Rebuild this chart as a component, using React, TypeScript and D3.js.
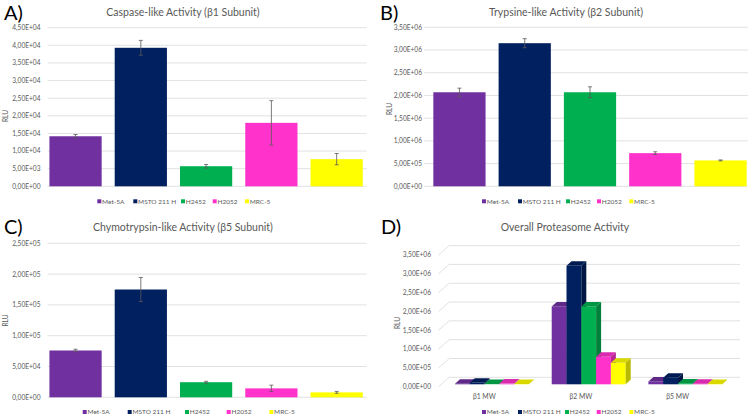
import React from "react";
import * as d3 from "d3";

const categories = ["Met-5A", "MSTO 211 H", "H2452", "H2052", "MRC-5"];
const colors = ["#7030A0", "#002060", "#00B050", "#FF33CC", "#FFFF00"];

const caspaseValues = [14200, 39300, 5700, 18000, 7700];
const caspaseErrors = [500, 2100, 500, 6300, 1600];

const trypsinValues = [2070000, 3150000, 2070000, 730000, 570000];
const trypsinErrors = [90000, 100000, 120000, 30000, 10000];

const chymoValues = [76000, 175000, 24500, 14500, 8000];
const chymoErrors = [2000, 19500, 1500, 5200, 1500];

const overallGroups = ["β1 MW", "β2 MW", "β5 MW"];
const overallValues = [caspaseValues, trypsinValues, chymoValues];

const FONT = "Lato, 'Open Sans', sans-serif";
const GRAY = "#595959";
const GRID = "#d9d9d9";

function fmt(v: number): string {
  if (v === 0) return "0,00E+00";
  const e = Math.floor(Math.log10(v) + 1e-9);
  const m = v / Math.pow(10, e);
  return m.toFixed(2).replace(".", ",") + "E+" + String(e).padStart(2, "0");
}

function Legend({ y, xs }: { y: number; xs: number[] }) {
  return (
    <g>
      {categories.map((c, i) => (
        <g key={c}>
          <rect x={xs[i]} y={y - 2} width={4} height={4} fill={colors[i]} />
          <text x={xs[i] + 4.8} y={y + 2.4} fontSize={6.5} fill={GRAY} fontFamily={FONT}>
            {c}
          </text>
        </g>
      ))}
    </g>
  );
}

type PanelProps = {
  title: string;
  label: string;
  labelX: number;
  labelY: number;
  titleX: number;
  titleY: number;
  values: number[];
  errors: number[];
  yMax: number;
  yStep: number;
  yTop: number;
  yBottom: number;
  gridX0: number;
  gridX1: number;
  bandX0: number;
  bandX1: number;
  tickX: number;
  rluX: number;
  rluY: number;
  legendY: number;
  legendXs: number[];
};

function BarPanel(p: PanelProps) {
  const y = d3.scaleLinear().domain([0, p.yMax]).range([p.yBottom, p.yTop]);
  const x = d3
    .scaleBand<string>()
    .domain(categories)
    .range([p.bandX0, p.bandX1])
    .paddingInner(0.2)
    .paddingOuter(0.1);
  const ticks = d3.range(0, p.yMax + p.yStep / 2, p.yStep);
  return (
    <g>
      <text x={p.labelX} y={p.labelY} fontSize={20} fontFamily={FONT} fill="#000">
        {p.label}
      </text>
      <text x={p.titleX} y={p.titleY} fontSize={10.5} fontFamily={FONT} fill={GRAY} textAnchor="middle">
        {p.title}
      </text>
      {ticks.map((t) => (
        <g key={t}>
          <line x1={p.gridX0} x2={p.gridX1} y1={y(t)} y2={y(t)} stroke={GRID} strokeWidth={0.8} />
          <text x={p.tickX} y={y(t) + 2.4} fontSize={6.6} fill={GRAY} fontFamily={FONT} textAnchor="end">
            {fmt(t)}
          </text>
        </g>
      ))}
      <text
        transform={`translate(${p.rluX},${p.rluY}) rotate(-90)`}
        fontSize={6.6}
        fill={GRAY}
        fontFamily={FONT}
        textAnchor="middle"
        dy={2.4}
      >
        RLU
      </text>
      {categories.map((c, i) => {
        const bx = x(c)!;
        const bw = x.bandwidth();
        const cx = bx + bw / 2;
        const v = p.values[i];
        const e = p.errors[i];
        return (
          <g key={c}>
            <rect x={bx} y={y(v)} width={bw} height={y(0) - y(v)} fill={colors[i]} />
            <line x1={cx} x2={cx} y1={y(v + e)} y2={y(v - e)} stroke={GRAY} strokeWidth={0.8} />
            <line x1={cx - 2} x2={cx + 2} y1={y(v + e)} y2={y(v + e)} stroke={GRAY} strokeWidth={0.8} />
            <line x1={cx - 2} x2={cx + 2} y1={y(v - e)} y2={y(v - e)} stroke={GRAY} strokeWidth={0.8} />
          </g>
        );
      })}
      <Legend y={p.legendY} xs={p.legendXs} />
    </g>
  );
}

function Panel3D() {
  const yMax = 3500000;
  const y = d3.scaleLinear().domain([0, yMax]).range([386.7, 255]);
  const ticks = d3.range(0, yMax + 1, 500000);
  const frontLeft = 438.5;
  const wallDx = 10.7;
  const wallDy = -9.4;
  const backRight = 740;
  const xg = d3
    .scaleBand<string>()
    .domain(overallGroups)
    .range([441, 731])
    .paddingInner(0.235)
    .paddingOuter(0.117);
  const xs = d3.scaleBand<string>().domain(categories).range([0, xg.bandwidth()]).padding(0);
  const barDx = 2.7;
  const barDy = -2.4;
  const depthX = 5;
  const depthY = -4.5;
  return (
    <g>
      <text x={381} y={234} fontSize={20} fontFamily={FONT} fill="#000">
        D)
      </text>
      <text x={565} y={231} fontSize={10.5} fontFamily={FONT} fill={GRAY} textAnchor="middle">
        Overall Proteasome Activity
      </text>
      {ticks.map((t) => (
        <g key={t}>
          <polyline
            points={`${frontLeft},${y(t)} ${frontLeft + wallDx},${y(t) + wallDy} ${backRight},${y(t) + wallDy}`}
            fill="none"
            stroke={GRID}
            strokeWidth={0.8}
          />
          <text x={431} y={y(t) + 2.4} fontSize={6.6} fill={GRAY} fontFamily={FONT} textAnchor="end">
            {fmt(t)}
          </text>
        </g>
      ))}
      <text
        transform={`translate(397.7,323) rotate(-90)`}
        fontSize={6.6}
        fill={GRAY}
        fontFamily={FONT}
        textAnchor="middle"
        dy={2.4}
      >
        RLU
      </text>
      {overallGroups.map((g, gi) => (
        <g key={g}>
          {categories.map((c, i) => {
            const v = overallValues[gi][i];
            const x0 = xg(g)! + xs(c)! + barDx;
            const w = xs.bandwidth();
            const yb = y(0) + barDy;
            const yt = y(v) + barDy;
            const base = d3.color(colors[i])!;
            const top = base.darker(0.45).formatHex();
            const side = base.darker(0.9).formatHex();
            return (
              <g key={c}>
                <rect x={x0} y={yt} width={w} height={yb - yt} fill={colors[i]} />
                <polygon
                  points={`${x0},${yt} ${x0 + depthX},${yt + depthY} ${x0 + w + depthX},${yt + depthY} ${x0 + w},${yt}`}
                  fill={top}
                />
                <polygon
                  points={`${x0 + w},${yt} ${x0 + w + depthX},${yt + depthY} ${x0 + w + depthX},${yb + depthY} ${x0 + w},${yb}`}
                  fill={side}
                />
              </g>
            );
          })}
          <text
            x={xg(g)! + xg.bandwidth() / 2 - 5}
            y={398.5}
            fontSize={6.8}
            fill={GRAY}
            fontFamily={FONT}
            textAnchor="middle"
          >
            {g}
          </text>
        </g>
      ))}
      <Legend y={412} xs={[482, 518, 565, 596.7, 629.3]} />
    </g>
  );
}

export default function App() {
  return (
    <svg
      width={753}
      height={419}
      style={{ position: "absolute", left: 0, top: 0, background: "#fff" }}
    >
      <rect width={753} height={419} fill="#fff" />
      <BarPanel
        title="Caspase-like Activity (β1 Subunit)"
        label="A)"
        labelX={4}
        labelY={20}
        titleX={183}
        titleY={15.5}
        values={caspaseValues}
        errors={caspaseErrors}
        yMax={45000}
        yStep={5000}
        yTop={27.7}
        yBottom={186.3}
        gridX0={47.7}
        gridX1={366.7}
        bandX0={42.9}
        bandX1={369.3}
        tickX={40.5}
        rluX={6}
        rluY={116}
        legendY={201.3}
        legendXs={[97.3, 133.3, 181, 212.7, 245]}
      />
      <BarPanel
        title="Trypsine-like Activity (β2 Subunit)"
        label="B)"
        labelX={380}
        labelY={20}
        titleX={566}
        titleY={15.5}
        values={trypsinValues}
        errors={trypsinErrors}
        yMax={3500000}
        yStep={500000}
        yTop={27.3}
        yBottom={186.3}
        gridX0={424.3}
        gridX1={747.7}
        bandX0={426.8}
        bandX1={753.2}
        tickX={422}
        rluX={390}
        rluY={109}
        legendY={201.3}
        legendXs={[482, 518, 566, 597, 629.3]}
      />
      <BarPanel
        title="Chymotrypsin-like Activity (β5 Subunit)"
        label="C)"
        labelX={4}
        labelY={234}
        titleX={183}
        titleY={231}
        values={chymoValues}
        errors={chymoErrors}
        yMax={250000}
        yStep={50000}
        yTop={243.3}
        yBottom={397.3}
        gridX0={47.7}
        gridX1={366.7}
        bandX0={42.9}
        bandX1={369.3}
        tickX={40.5}
        rluX={6}
        rluY={320.5}
        legendY={412}
        legendXs={[82.7, 127.7, 185, 226.7, 269.3]}
      />
      <Panel3D />
    </svg>
  );
}
